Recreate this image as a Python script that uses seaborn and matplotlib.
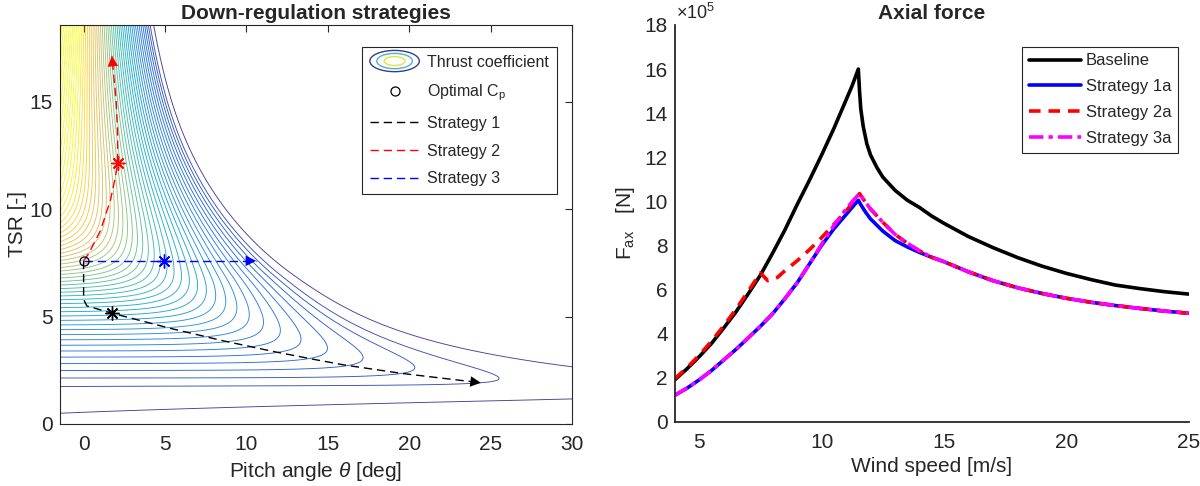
import numpy as np
import matplotlib
matplotlib.use('Agg')
import matplotlib.pyplot as plt
import seaborn as sns
from matplotlib.colors import LinearSegmentedColormap, Normalize
from matplotlib.legend_handler import HandlerBase
from matplotlib.patches import Ellipse
from matplotlib.lines import Line2D

sns.set_theme(style='white')
plt.rcParams['font.family'] = ['Liberation Sans', 'DejaVu Sans']
plt.rcParams['mathtext.fontset'] = 'custom'
plt.rcParams['mathtext.rm'] = 'Liberation Sans'
plt.rcParams['mathtext.it'] = 'Liberation Sans:italic'
plt.rcParams['xtick.direction'] = 'in'
plt.rcParams['ytick.direction'] = 'in'

# ---------------- left panel data ----------------
# strategy paths (pitch [deg], TSR [-])
opt_pitch, opt_tsr = 0.0, 7.6
s1_pitch = [0.0, 0.0, 0.2, 1.75, 5.3, 8.6, 11.7, 14.35, 16.0, 19.5, 24.4]
s1_tsr = [7.6, 5.8, 5.5, 5.16, 4.46, 3.87, 3.37, 2.98, 2.75, 2.36, 1.92]
s1_star = (1.75, 5.16)
s2_pitch = [0.0, 0.3, 1.03, 1.64, 1.95, 2.09, 2.09, 2.0, 1.84, 1.74]
s2_tsr = [7.6, 7.92, 9.0, 10.4, 11.5, 12.14, 13.5, 15.06, 16.3, 17.15]
s2_star = (2.09, 12.14)
s3_pitch = [0.0, 4.92, 10.6]
s3_tsr = [7.6, 7.6, 7.6]
s3_star = (4.92, 7.6)

# thrust coefficient surface (simple stall / attached-flow model)
pitch_grid = np.linspace(-1.45, 30, 500)
tsr_grid = np.linspace(0.02, 18.6, 500)


def thrust_map(pitch, tsr):
    h = tsr ** 2 / (1 + (tsr / 5.0) ** 2)
    width = np.where(tsr < 7.0, 3.2, 6.0)
    k = 80.0 + 10.0 * np.exp(-((tsr - 7.0) / width) ** 2)
    a = np.clip(k - pitch * tsr, 1e-6, None)
    x = np.clip(tsr - 1.75, 0, None)
    s = 37.0 + 4.0 * x + 1.2 * np.clip(tsr - 3.0, 0, None) ** 2
    m = (a ** -6 + s ** -6) ** (-1 / 6)
    low = 1 + 0.13 * np.clip(pitch + 1.5, 0, None) / (1 + (tsr / 1.45) ** 20)
    return h * m / low


P, L = np.meshgrid(pitch_grid, tsr_grid)
CT = thrust_map(P, L)
lev_lo, lev_start = thrust_map(np.array([-1.45, 0.0]), np.array([0.5, 1.75]))
ct_levels = np.concatenate([[lev_lo], np.arange(lev_start, CT.max(), 49.0)])

# ---------------- right panel data (axial force, x1e5 N) ----------------
wind_base = [4, 4.5, 5, 5.5, 6, 6.5, 7, 7.5, 8, 8.5, 9, 9.5, 10, 10.5, 11, 11.25, 11.5,
             11.55, 11.6, 11.7, 11.85, 12, 12.25, 12.5, 13, 13.5, 14, 14.5, 15, 16, 17, 18,
             19, 20, 21, 22, 23, 24, 25]
fax_base = [1.9, 2.4, 2.95, 3.55, 4.25, 4.98, 5.8, 6.65, 7.65, 8.7, 9.85, 10.95, 12.1, 13.3, 14.6,
            15.25, 16.0, 15.0, 14.2, 13.4, 12.6, 12.1, 11.55, 11.1, 10.5, 10.05, 9.72, 9.33, 9.0,
            8.4, 7.9, 7.45, 7.06, 6.73, 6.45, 6.2, 6.04, 5.9, 5.79]
wind_s1 = [4, 4.5, 5, 5.5, 6, 6.5, 7, 7.5, 8, 8.5, 9, 9.5, 10, 10.5, 11, 11.5, 11.6, 11.8, 12,
           12.5, 13, 13.5, 14, 14.5, 15, 16, 17, 18, 19, 20, 21, 22, 23, 24, 25]
fax_s1 = [1.2, 1.52, 1.9, 2.32, 2.8, 3.28, 3.8, 4.33, 4.9, 5.58, 6.3, 7.15, 8.0, 8.75, 9.4, 10.05,
          9.85, 9.5, 9.2, 8.65, 8.22, 7.93, 7.68, 7.46, 7.26, 6.8, 6.4, 6.08, 5.82, 5.6, 5.42, 5.27,
          5.14, 5.02, 4.92]
wind_s2 = [4, 4.5, 5, 5.5, 6, 6.5, 7, 7.5, 7.8, 8.2, 8.5, 9, 9.5, 10, 10.5, 11, 11.3, 11.55,
           11.7, 12, 12.5, 13, 13.5, 14, 14.5, 15, 16, 17, 18, 19, 20, 21, 22, 23, 24, 25]
fax_s2 = [1.95, 2.45, 3.02, 3.65, 4.35, 5.1, 5.92, 6.75, 6.4, 6.55, 6.85, 7.3, 7.8, 8.35, 8.95, 9.55,
          10.0, 10.35, 10.1, 9.65, 9.05, 8.5, 8.1, 7.75, 7.46, 7.26, 6.8, 6.4, 6.08, 5.82, 5.6, 5.42,
          5.27, 5.14, 5.02, 4.92]
wind_s3 = [4, 4.5, 5, 5.5, 6, 6.5, 7, 7.5, 8, 8.5, 9, 9.5, 10, 10.5, 11, 11.3, 11.55, 11.7, 12,
           12.5, 13, 13.5, 14, 14.5, 15, 16, 17, 18, 19, 20, 21, 22, 23, 24, 25]
fax_s3 = [1.2, 1.52, 1.9, 2.32, 2.8, 3.28, 3.8, 4.33, 4.9, 5.58, 6.3, 7.15, 8.05, 8.9, 9.65, 10.05,
          10.35, 10.1, 9.65, 9.05, 8.5, 8.1, 7.75, 7.46, 7.26, 6.8, 6.4, 6.08, 5.82, 5.6, 5.42, 5.27,
          5.14, 5.02, 4.92]

parula = LinearSegmentedColormap.from_list('parula', [
    '#352a87', '#0f5cdd', '#1481d6', '#06a4ca', '#2eb7a4', '#87bf77', '#d1bb59', '#fec832', '#f9fb0e'])


class ContourIcon(HandlerBase):
    def create_artists(self, legend, orig_handle, xdescent, ydescent, width, height, fontsize, trans):
        cx, cy = width / 2 - xdescent, height / 2 - ydescent
        arts = []
        for frac, col in [(1.0, '#3b3b8a'), (0.72, '#46b6c8'), (0.42, '#e8e040')]:
            e = Ellipse((cx, cy), width * frac, height * 1.9 * frac, fill=False,
                        edgecolor=col, lw=1.0, transform=trans)
            arts.append(e)
        return arts


fig = plt.figure(figsize=(12, 4.86), dpi=100)
ax1 = fig.add_axes([0.05, 0.1276, 0.4267, 0.8216])
ax2 = fig.add_axes([0.5623, 0.1323, 0.4283, 0.8163])

# ---- left: down-regulation strategies ----
ax1.contour(P, L, CT, levels=ct_levels, cmap=parula, linewidths=0.65, alpha=0.9,
            norm=Normalize(vmin=0, vmax=0.8 * CT.max()))
dash = (6, 3.5)
ax1.plot(s1_pitch, s1_tsr, color='black', lw=1.0, dashes=dash)
ax1.plot(s2_pitch, s2_tsr, color='red', lw=1.0, dashes=dash)
ax1.plot(s3_pitch, s3_tsr, color='blue', lw=1.0, dashes=dash)
for xs, ys, col in [(s1_pitch, s1_tsr, 'black'), (s2_pitch, s2_tsr, 'red'), (s3_pitch, s3_tsr, 'blue')]:
    ax1.annotate('', xy=(xs[-1], ys[-1]), xytext=(xs[-2], ys[-2]),
                 arrowprops=dict(arrowstyle='-|>', color=col, lw=0, mutation_scale=19,
                                 shrinkA=0, shrinkB=0))
for (sx, sy), col in [(s1_star, 'black'), (s2_star, 'red'), (s3_star, 'blue')]:
    ax1.plot(sx, sy, marker=(8, 2, 0), color=col, markersize=10, mew=1.0, ls='none')
ax1.plot(opt_pitch, opt_tsr, 'o', mfc='none', mec='black', ms=6.5, mew=0.9)

ax1.set_xlim(-1.45, 30)
ax1.set_ylim(0, 18.6)
ax1.set_xticks([0, 5, 10, 15, 20, 25, 30])
ax1.set_yticks([0, 5, 10, 15])
ax1.tick_params(labelsize=15, length=5, width=0.8, color='#262626', top=True, right=True, pad=5)
ax1.tick_params(axis='x', pad=8)
for sp in ax1.spines.values():
    sp.set_color('#262626')
    sp.set_linewidth(0.8)
ax1.set_xlabel(r'Pitch angle $\theta$ [deg]', fontsize=15, labelpad=4)
ax1.set_ylabel('TSR [-]', fontsize=15, labelpad=2)
ax1.set_title('Down-regulation strategies', fontsize=15, fontweight='bold', pad=4)

h_ct = object()
leg_handles = [h_ct,
               Line2D([], [], ls='none', marker='o', mfc='none', mec='black', ms=6.5, mew=0.9),
               Line2D([], [], color='black', lw=1.0, dashes=dash),
               Line2D([], [], color='red', lw=1.0, dashes=dash),
               Line2D([], [], color='blue', lw=1.0, dashes=dash)]
leg1 = ax1.legend(leg_handles, ['Thrust coefficient', r'Optimal C$_\mathrm{p}$', 'Strategy 1',
                                'Strategy 2', 'Strategy 3'],
                  handler_map={h_ct: ContourIcon()}, loc='upper right', fontsize=11.5,
                  handlelength=3.1, frameon=True, fancybox=False, framealpha=1,
                  edgecolor='#262626', borderpad=0.5, labelspacing=0.8, borderaxespad=0,
                  handletextpad=0.5, bbox_to_anchor=(0.971, 0.945))
leg1.get_frame().set_linewidth(0.8)

# ---- right: axial force ----
sns.lineplot(x=wind_base, y=fax_base, ax=ax2, color='black', lw=2.6, label='Baseline')
sns.lineplot(x=wind_s1, y=fax_s1, ax=ax2, color='blue', lw=2.6, label='Strategy 1a')
sns.lineplot(x=wind_s2, y=fax_s2, ax=ax2, color='red', lw=2.6, label='Strategy 2a',
             linestyle=(0, (3.2, 2.2)))
sns.lineplot(x=wind_s3, y=fax_s3, ax=ax2, color='magenta', lw=2.6, label='Strategy 3a',
             linestyle=(0, (4, 1.4, 1.2, 1.4)))
ax2.set_xlim(4, 25)
ax2.set_ylim(0, 18)
ax2.set_xticks([5, 10, 15, 20, 25])
ax2.set_yticks(np.arange(0, 19, 2))
ax2.text(0.003, 1.004, r'$\times10^{5}$', transform=ax2.transAxes, fontsize=13,
         ha='left', va='bottom', color='#262626')
ax2.spines['top'].set_visible(False)
ax2.spines['right'].set_visible(False)
for sp in ['left', 'bottom']:
    ax2.spines[sp].set_color('#262626')
    ax2.spines[sp].set_linewidth(1.3)
ax2.tick_params(labelsize=15, length=5, width=1.0, color='#262626', pad=5)
ax2.tick_params(axis='x', pad=8)
ax2.set_xlabel('Wind speed [m/s]', fontsize=15, labelpad=4)
ax2.set_ylabel(r'F$_\mathrm{ax}$   [N]', fontsize=15, labelpad=5)
ax2.set_title('Axial force', fontsize=15, fontweight='bold', pad=4)
leg2 = ax2.legend(loc='upper right', fontsize=12, handlelength=3.1, frameon=True, fancybox=False,
                  framealpha=1, edgecolor='#262626', borderpad=0.4, labelspacing=0.65,
                  handletextpad=0.3, borderaxespad=0, bbox_to_anchor=(0.979, 0.945))
leg2.get_frame().set_linewidth(0.8)

fig.savefig('out.png', dpi=100)
